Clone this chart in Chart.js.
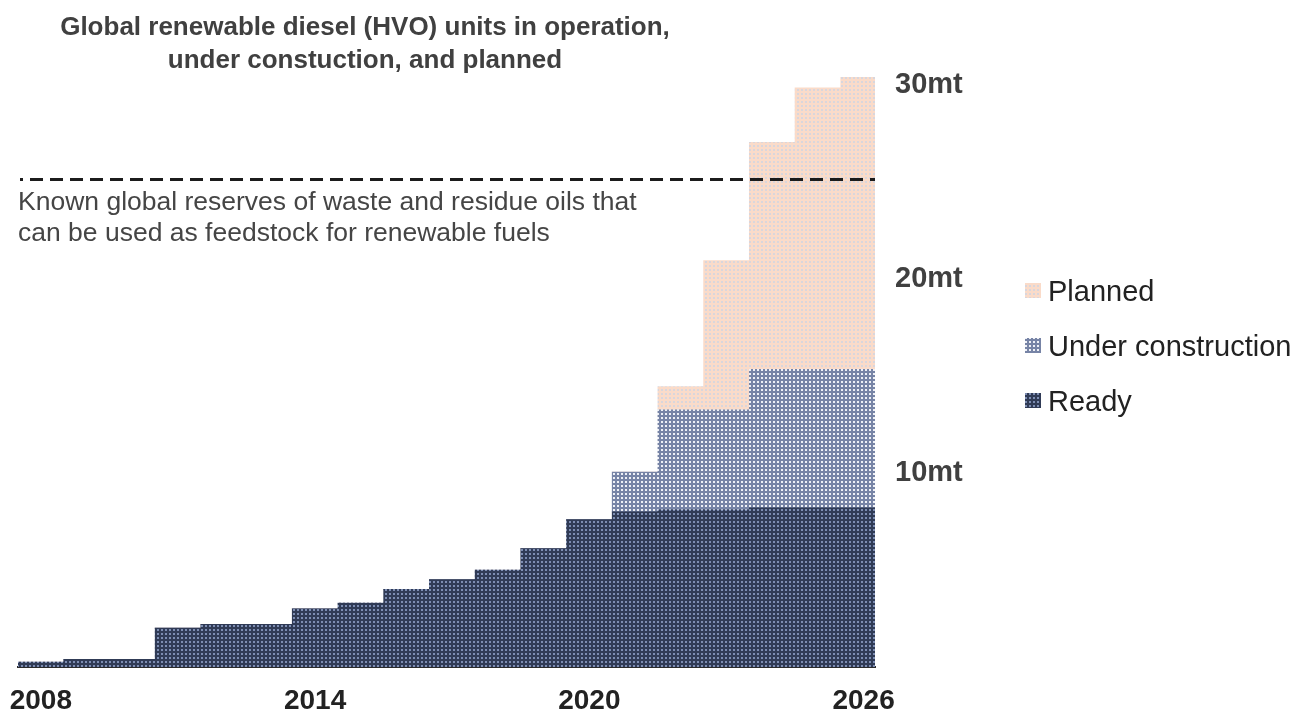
<!DOCTYPE html>
<html>
<head>
<meta charset="utf-8">
<title>Global renewable diesel (HVO) units</title>
<script src="https://cdn.jsdelivr.net/npm/chart.js@4.4.1/dist/chart.umd.min.js"></script>
<style>
  html, body { margin: 0; padding: 0; background: #fff; }
  #wrap { width: 1303px; height: 713px; }
</style>
</head>
<body>
<div id="wrap"><canvas id="hvoChart" width="1303" height="713"></canvas></div>
<script>
// Data (million tonnes of capacity)
const years = [2008, 2009, 2010, 2011, 2012, 2013, 2014, 2015, 2016, 2017,
               2018, 2019, 2020, 2021, 2022, 2023, 2024, 2025, 2026];
const ready = [0.25, 0.4, 0.4, 2.0, 2.2, 2.2, 3.0, 3.3, 4.0, 4.5,
               5.0, 6.1, 7.6, 8.0, 8.1, 8.1, 8.2, 8.2, 8.2];
const underConstruction = [0, 0, 0, 0, 0, 0, 0, 0, 0, 0,
                           0, 0, 0, 2.05, 5.15, 5.15, 7.15, 7.15, 7.15];
const planned = [0, 0, 0, 0, 0, 0, 0, 0, 0, 0,
                 0, 0, 0, 0, 1.2, 7.7, 11.7, 14.5, 15.05];

const xTicks = [2008, 2014, 2020, 2026];
const yTicks = [10, 20, 30];

// Known waste / residue oil reserves (dashed line)
const reserveLimit = 25.15;
const reserveNote = [
  "Known global reserves of waste and residue oils that",
  "can be used as feedstock for renewable fuels"
];
const titleLines = [
  "Global renewable diesel (HVO) units in operation,",
  "under constuction, and planned"
];

const FONT = '"Liberation Sans", Arial, Helvetica, sans-serif';
Chart.defaults.font.family = FONT;

// Small dotted fills like the original
function makePattern(base, dot) {
  const c = document.createElement("canvas");
  c.width = 4;
  c.height = 4;
  const g = c.getContext("2d");
  g.fillStyle = base;
  g.fillRect(0, 0, 4, 4);
  g.fillStyle = dot;
  g.fillRect(1, 1, 2, 2);
  return g.createPattern(c, "repeat");
}

const readyFill = makePattern("#303b56", "#7d8db2");
const ucFill = makePattern("#7784a6", "#eef0f6");
const plannedFill = makePattern("#fadbc9", "#d9d6dc");

const toPoints = arr => arr.map((v, i) => ({ x: years[i], y: v }));

// Title, reserve line, note and legend
const decor = {
  id: "decor",
  afterDatasetsDraw(chart) {
    const { ctx, chartArea, scales } = chart;
    const y = Math.round(scales.y.getPixelForValue(reserveLimit));
    ctx.save();
    ctx.strokeStyle = "#1c1c1c";
    ctx.lineWidth = 3;
    ctx.setLineDash([13, 7]);
    ctx.lineDashOffset = 10;
    ctx.beginPath();
    ctx.moveTo(chartArea.left + 2, y + 0.5);
    ctx.lineTo(chartArea.right, y + 0.5);
    ctx.stroke();
    ctx.restore();
  },
  afterDraw(chart) {
    const ctx = chart.ctx;
    ctx.save();
    ctx.textBaseline = "alphabetic";

    // title
    ctx.fillStyle = "#404040";
    ctx.font = "bold 26px " + FONT;
    ctx.textAlign = "center";
    ctx.fillText(titleLines[0], 365, 35);
    ctx.fillText(titleLines[1], 365, 68);

    // note under the dashed line
    ctx.fillStyle = "#454545";
    ctx.font = "26.5px " + FONT;
    ctx.textAlign = "left";
    ctx.fillText(reserveNote[0], 18, 210);
    ctx.fillText(reserveNote[1], 18, 241);

    // legend (top to bottom: Planned, Under construction, Ready)
    const sets = chart.data.datasets.slice().reverse();
    ctx.font = "29px " + FONT;
    sets.forEach((ds, i) => {
      const cy = 291 + i * 55;
      ctx.fillStyle = ds.backgroundColor;
      ctx.fillRect(1025, cy - 8, 16, 15);
      ctx.fillStyle = "#222";
      ctx.fillText(ds.label, 1048, cy + 10);
    });
    ctx.restore();
  }
};

new Chart(document.getElementById("hvoChart"), {
  type: "bar",
  data: {
    datasets: [
      { label: "Ready", data: toPoints(ready), backgroundColor: readyFill },
      { label: "Under construction", data: toPoints(underConstruction), backgroundColor: ucFill },
      { label: "Planned", data: toPoints(planned), backgroundColor: plannedFill }
    ]
  },
  options: {
    responsive: false,
    animation: false,
    devicePixelRatio: 1,
    layout: { padding: { left: 18, top: 65.6, right: 0, bottom: 0 } },
    datasets: {
      bar: { barPercentage: 1, categoryPercentage: 1, borderWidth: 0 }
    },
    plugins: {
      legend: { display: false },
      tooltip: { enabled: false }
    },
    scales: {
      x: {
        type: "linear",
        stacked: true,
        offset: false,
        min: 2007.5,
        max: 2026.25,
        grid: { display: false, drawTicks: false },
        border: { display: true, color: "#2a2a2a", width: 2 },
        afterBuildTicks: s => { s.ticks = xTicks.map(v => ({ value: v })); },
        afterFit: s => {
          s.height = 46;
          s.paddingLeft = 0;
          s.paddingRight = 0;
        },
        ticks: {
          autoSkip: false,
          maxRotation: 0,
          padding: 17,
          color: "#222",
          font: { size: 28, weight: "bold" },
          callback: v => String(v)
        }
      },
      y: {
        position: "right",
        stacked: true,
        min: 0,
        max: 31,
        grid: { display: false, drawTicks: false },
        border: { display: false },
        afterBuildTicks: s => { s.ticks = yTicks.map(v => ({ value: v })); },
        afterFit: s => { s.width = 428; },
        ticks: {
          autoSkip: false,
          padding: 20,
          color: "#404040",
          font: { size: 29, weight: "bold" },
          callback: v => v + "mt"
        }
      }
    }
  },
  plugins: [decor]
});
</script>
</body>
</html>
